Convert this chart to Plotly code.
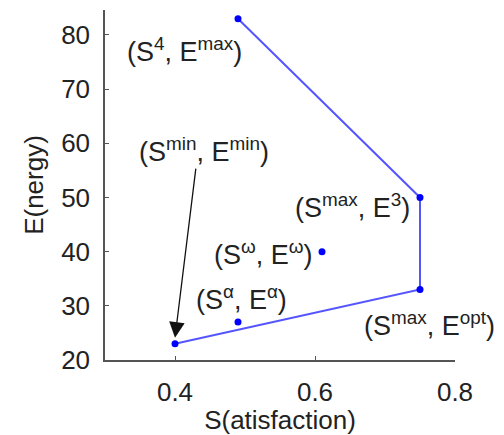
import plotly.graph_objects as go

# Boundary polyline (satisfaction, energy)
path_s = [0.40, 0.75, 0.75, 0.49]
path_e = [23, 33, 50, 83]

# Interior points
inner_s = [0.49, 0.61]
inner_e = [27, 40]

# Point labels
label_text = [
    "(S<sup>4</sup>, E<sup>max</sup>)",
    "(S<sup>min</sup>, E<sup>min</sup>)",
    "(S<sup>max</sup>, E<sup>3</sup>)",
    "(S<sup>ω</sup>, E<sup>ω</sup>)",
    "(S<sup>α</sup>, E<sup>α</sup>)",
    "(S<sup>max</sup>, E<sup>opt</sup>)",
]
label_s = [0.413, 0.441, 0.653, 0.527, 0.495, 0.764]
label_e = [77.2, 58.7, 48.4, 39.7, 31.4, 26.6]

x_ticks = [0.4, 0.6, 0.8]
y_ticks = [20, 30, 40, 50, 60, 70, 80]

FONT = "Liberation Sans, Arial, sans-serif"
TXT = "#222"

fig = go.Figure()
fig.add_trace(go.Scatter(
    x=path_s, y=path_e, mode="lines+markers",
    line=dict(color="rgb(85,85,255)", width=2),
    marker=dict(color="#0000ff", size=7),
    showlegend=False,
))
fig.add_trace(go.Scatter(
    x=inner_s, y=inner_e, mode="markers",
    marker=dict(color="#0000ff", size=7),
    showlegend=False,
))

for t, sx, ey in zip(label_text, label_s, label_e):
    fig.add_annotation(x=sx, y=ey, text=t, showarrow=False,
                       font=dict(family=FONT, size=27, color=TXT),
                       xanchor="center", yanchor="middle")

# Arrow from the (S^min, E^min) label to the minimum point
fig.add_annotation(x=0.40, y=24.1, ax=0.43, ay=55.6, xref="x", yref="y",
                   axref="x", ayref="y", text="", showarrow=True,
                   arrowhead=2, arrowsize=2.4, arrowwidth=1.3,
                   arrowcolor="#111")

fig.update_xaxes(range=[0.3, 0.8], tickvals=x_ticks, ticktext=["0.4", "0.6", "0.8"],
                 showline=True, linecolor="#555", linewidth=1.5,
                 ticks="inside", ticklen=4, tickcolor="#555",
                 showgrid=False, zeroline=False, ticklabelstandoff=8,
                 automargin=False,
                 tickfont=dict(family=FONT, size=26, color=TXT),
                 title=dict(text="S(atisfaction)", font=dict(family=FONT, size=26, color=TXT),
                            standoff=12))
fig.update_yaxes(range=[20, 84.6], tickvals=y_ticks,
                 showline=True, linecolor="#555", linewidth=1.5,
                 ticks="inside", ticklen=4, tickcolor="#555",
                 showgrid=False, zeroline=False, ticklabelstandoff=8,
                 automargin=False,
                 tickfont=dict(family=FONT, size=26, color=TXT),
                 title=dict(text="E(nergy)", font=dict(family=FONT, size=26, color=TXT),
                            standoff=10))

fig.update_layout(
    width=504, height=435,
    margin=dict(l=105, r=49, t=10, b=75),
    plot_bgcolor="white", paper_bgcolor="white",
)

fig.write_html("out.html")
